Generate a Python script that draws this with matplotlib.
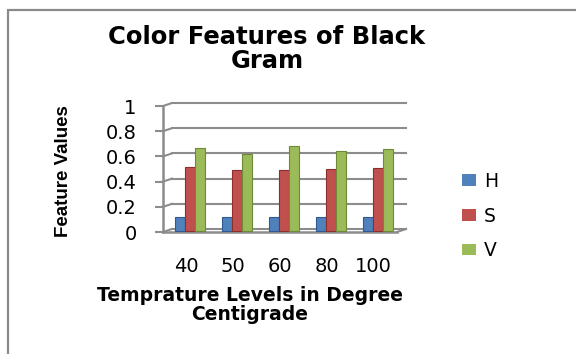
import numpy as np
import matplotlib
matplotlib.use("Agg")
import matplotlib.pyplot as plt
from matplotlib.patches import Rectangle, Patch
from matplotlib.transforms import offset_copy

temps = ["40", "50", "60", "80", "100"]
series = ["H", "S", "V"]
h_vals = [0.11, 0.11, 0.11, 0.11, 0.11]
s_vals = [0.51, 0.48, 0.48, 0.49, 0.50]
v_vals = [0.66, 0.61, 0.67, 0.63, 0.65]
y_ticks = [0, 0.2, 0.4, 0.6, 0.8, 1]
y_tick_labels = ["0", "0.2", "0.4", "0.6", "0.8", "1"]

colors = ["#4F81BD", "#C0504D", "#9BBB59"]
edges = ["#2E5A8E", "#8C2F2C", "#6E8A38"]
grid_col = "#8C8C8C"

W, H = 576, 354
fig = plt.figure(figsize=(W / 100, H / 100), dpi=100)
fig.patch.set_facecolor("white")

# outer chart border (only left and top edges are visible)
fig.add_artist(Rectangle((8 / W, -0.1), 1.2, (H - 10) / H + 0.1,
                         transform=fig.transFigure, fill=False,
                         edgecolor="#8A8A8A", linewidth=1.6))

# front plane of the pseudo-3D plot area
ax = fig.add_axes([163 / W, (H - 232) / H, (397 - 163) / W, (232 - 106) / H])
ax.set_xlim(-0.5, len(temps) - 0.5)
ax.set_ylim(0, 1)
for sp in ax.spines.values():
    sp.set_visible(False)
ax.patch.set_alpha(0)

back = offset_copy(ax.transData, fig=fig, x=0.09, y=0.03, units="inches")
mid = offset_copy(ax.transData, fig=fig, x=0.04, y=0.012, units="inches")

x0, x1 = -0.5, len(temps) - 0.5
for yv in y_ticks:
    ax.plot([x0, x1], [yv, yv], color=grid_col, lw=1.5, transform=back,
            clip_on=False, zorder=1)
    # short connectors from the front axis to the back wall
    p0 = ax.transData.transform((x0, yv))
    p1 = back.transform((x0, yv))
    fig.add_artist(plt.Line2D([p0[0] / W, p1[0] / W], [p0[1] / H, p1[1] / H],
                              color=grid_col, lw=1.5, transform=fig.transFigure))

# front axis line and front floor edge
ax.plot([x0, x0], [0, 1], color=grid_col, lw=1.8, clip_on=False, zorder=1)
ax.plot([x0, x1], [0, 0], color=grid_col, lw=1.8, clip_on=False, zorder=1)
pr0 = ax.transData.transform((x1, 0))
pr1 = back.transform((x1, 0))
fig.add_artist(plt.Line2D([pr0[0] / W, pr1[0] / W], [pr0[1] / H, pr1[1] / H],
                          color=grid_col, lw=1.5, transform=fig.transFigure))

x = np.arange(len(temps))
bw = 0.215
for i, (vals, c, ec) in enumerate(zip([h_vals, s_vals, v_vals], colors, edges)):
    ax.bar(x + (i - 1) * bw, vals, width=bw, color=c, edgecolor=ec,
           linewidth=0.8, transform=mid, zorder=3)

ax.set_yticks(y_ticks)
ax.set_yticklabels(y_tick_labels, fontsize=14)
ax.tick_params(axis="y", length=6, width=1.5, color=grid_col, pad=13)
ax.set_xticks(x)
ax.set_xticklabels(temps, fontsize=14)
ax.tick_params(axis="x", length=0, pad=18)

fig.text(267 / W, 1 - 49 / H, "Color Features of Black\nGram", ha="center",
         va="center", fontsize=17.5, fontweight="bold", linespacing=1.0)
fig.text(250 / W, 1 - 305 / H, "Temprature Levels in Degree\nCentigrade",
         ha="center", va="center", fontsize=13.5, fontweight="bold",
         linespacing=1.0)
fig.text(63 / W, 1 - 171 / H, "Feature Values", rotation=90, ha="center",
         va="center", fontsize=13.5, fontweight="bold",
         family=["Liberation Sans", "DejaVu Sans"])

handles = [Patch(facecolor=c, edgecolor="none") for c in colors]
fig.legend(handles, series, loc="center left",
           bbox_to_anchor=(454 / W, 1 - 216 / H), frameon=False,
           fontsize=13.5, handlelength=0.75, handleheight=0.55,
           handletextpad=0.45, labelspacing=0.85, borderaxespad=0)

fig.savefig("out.png", dpi=100)
